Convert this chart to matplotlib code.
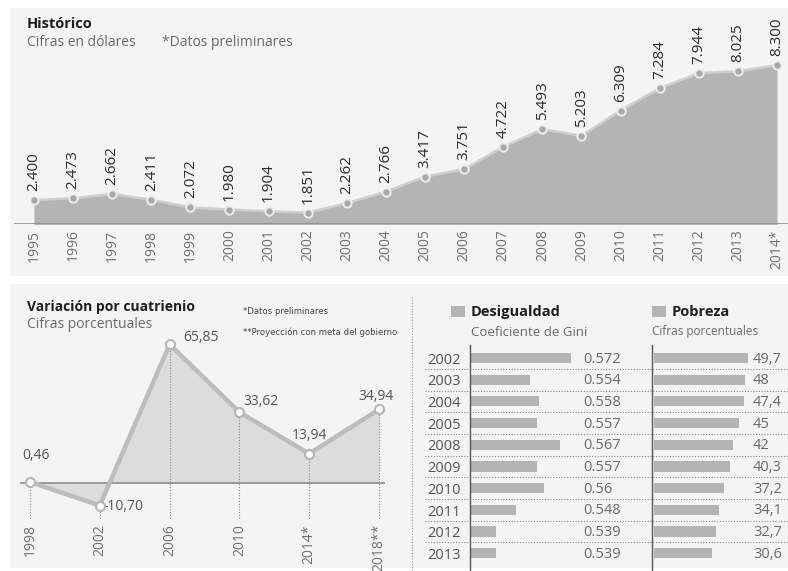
import matplotlib.pyplot as plt
from matplotlib.patches import Rectangle
from matplotlib.transforms import blended_transform_factory

plt.rcParams['font.family'] = ['Open Sans', 'DejaVu Sans']

# --- Data ---
hist_years = ['1995', '1996', '1997', '1998', '1999', '2000', '2001', '2002', '2003', '2004',
              '2005', '2006', '2007', '2008', '2009', '2010', '2011', '2012', '2013', '2014*']
hist_values = [2400, 2473, 2662, 2411, 2072, 1980, 1904, 1851, 2262, 2766,
               3417, 3751, 4722, 5493, 5203, 6309, 7284, 7944, 8025, 8300]

var_years = ['1998', '2002', '2006', '2010', '2014*', '2018**']
var_values = [0.46, -10.70, 65.85, 33.62, 13.94, 34.94]
var_labels = ['0,46', '-10,70', '65,85', '33,62', '13,94', '34,94']

table_years = ['2002', '2003', '2004', '2005', '2008', '2009', '2010', '2011', '2012', '2013']
gini = [0.572, 0.554, 0.558, 0.557, 0.567, 0.557, 0.56, 0.548, 0.539, 0.539]
gini_labels = ['0.572', '0.554', '0.558', '0.557', '0.567', '0.557', '0.56', '0.548', '0.539', '0.539']
pobreza = [49.7, 48, 47.4, 45, 42, 40.3, 37.2, 34.1, 32.7, 30.6]
pobreza_labels = ['49,7', '48', '47,4', '45', '42', '40,3', '37,2', '34,1', '32,7', '30,6']

W, H = 788, 571


def box(x0, y0, x1, y1):
    """pixel box (top-left origin) -> figure fraction rect"""
    return [x0 / W, 1 - y1 / H, (x1 - x0) / W, (y1 - y0) / H]


def px(x, y):
    return x / W, 1 - y / H


def clean(ax):
    for s in ax.spines.values():
        s.set_visible(False)
    ax.set_facecolor('none')
    ax.tick_params(length=0)


fig = plt.figure(figsize=(W / 100, H / 100), dpi=100)
fig.patch.set_facecolor('white')

# panel backgrounds
bg = '#f4f4f4'
fig.patches.append(Rectangle(px(10, 276), (W - 10) / W, 268 / H, transform=fig.transFigure,
                             fc=bg, ec='none', zorder=-5))
fig.patches.append(Rectangle(px(10, 568), (W - 10) / W, 284 / H, transform=fig.transFigure,
                             fc=bg, ec='none', zorder=-5))

title_c = '#1e1e1e'
sub_c = '#6a6a6a'
fill_dark = '#b4b4b4'

# --- Histórico ---
fig.text(*px(27, 24), 'Histórico', fontsize=10.5, fontweight='bold', color=title_c, va='center')
fig.text(*px(27, 43), 'Cifras en dólares', fontsize=10, color=sub_c, va='center')
fig.text(*px(162, 43), '*Datos preliminares', fontsize=10, color=sub_c, va='center')

ax1 = fig.add_axes(box(14, 8, 788, 224))
clean(ax1)
x1 = list(range(len(hist_values)))
ax1.fill_between(x1, hist_values, 0, color=fill_dark, lw=0, zorder=1)
ax1.plot(x1, hist_values, color='#cfcfcf', lw=1.8, zorder=2)
ax1.plot(x1, hist_values, 'o', ms=6, mfc='#a9a9a9', mec='#ececec', mew=1.4, zorder=3)
ax1.axhline(1350, color='#8c8c8c', lw=1.2, zorder=2)
ax1.set_xlim(-0.51, 19.28)
ax1.set_ylim(1350, 10790)
ax1.set_yticks([])
ax1.set_xticks(x1)
ax1.set_xticklabels(hist_years, rotation=90, fontsize=10, color='#707070')
ax1.tick_params(axis='x', pad=4)
for xi, v in zip(x1, hist_values):
    ax1.annotate(f'{v:,}'.replace(',', '.'), (xi, v), xytext=(0, 6.5), textcoords='offset points',
                 rotation=90, ha='center', va='bottom', fontsize=11, color='#2a2a2a')

# --- Variación por cuatrienio ---
fig.text(*px(27, 307), 'Variación por cuatrienio', fontsize=10, fontweight='bold',
         color=title_c, va='center')
fig.text(*px(27, 324), 'Cifras porcentuales', fontsize=10, color=sub_c, va='center')
narrow = ['Liberation Sans Narrow', 'DejaVu Sans']
fig.text(*px(243, 312), '*Datos preliminares', fontsize=6.1, family=narrow,
         color='#444444', va='center')
fig.text(*px(243, 332), '**Proyección con meta del gobierno', fontsize=6.1, family=narrow,
         color='#444444', va='center')

ax2 = fig.add_axes(box(20, 335, 385, 520))
clean(ax2)
x2 = list(range(len(var_values)))
ax2.fill_between(x2, var_values, 0, color='#dcdcdc', lw=0, zorder=1)
ax2.axhline(0, color='#8c8c8c', lw=1.2, zorder=2)
ax2.vlines(x2, -30, var_values, colors='#8a8a8a', linestyles=(0, (1, 1.5)), lw=0.8, zorder=2)
ax2.plot(x2, var_values, color='#bdbdbd', lw=3.2, zorder=3, solid_capstyle='round')
ax2.plot(x2, var_values, 'o', ms=6.5, mfc='white', mec='#b5b5b5', mew=1.5, zorder=4)
ax2.set_xlim(-0.143, 5.086)
ax2.set_ylim(-17.57, 70.3)
ax2.set_yticks([])
ax2.set_xticks(x2)
ax2.set_xticklabels(var_years, rotation=90, fontsize=10, color='#707070')
ax2.tick_params(axis='x', pad=3)
# label offsets in points (dx, dy), alignment
offs = [((4, 19), 'center'), ((3, -1), 'left'), ((10, 5), 'left'),
        ((3, 7.5), 'left'), ((0, 13), 'center'), ((-2, 9.5), 'center')]
for xi, v, lab, (off, ha) in zip(x2, var_values, var_labels, offs):
    ax2.annotate(lab, (xi, v), xytext=off, textcoords='offset points',
                 ha=ha, va='center', fontsize=10, color='#555555')

# vertical dotted separator
fig.add_artist(plt.Line2D([412 / W, 412 / W], [1 - 297 / H, 0], transform=fig.transFigure,
                          color='#9a9a9a', lw=0.8, ls=(0, (1, 1.5))))

# --- Desigualdad / Pobreza ---
fig.patches.append(Rectangle(px(451, 317), 14 / W, 11 / H, transform=fig.transFigure,
                             fc=fill_dark, ec='none'))
fig.text(*px(471, 312), 'Desigualdad', fontsize=10.5, fontweight='bold', color=title_c, va='center')
fig.text(*px(471, 332), 'Coeficiente de Gini', fontsize=9.5, color=sub_c, va='center')
fig.patches.append(Rectangle(px(652, 317), 14 / W, 11 / H, transform=fig.transFigure,
                             fc=fill_dark, ec='none'))
fig.text(*px(672, 312), 'Pobreza', fontsize=10.5, fontweight='bold', color=title_c, va='center')
fig.text(*px(652, 332), 'Cifras porcentuales', fontsize=8.5, color=sub_c, va='center')

rows = list(range(len(table_years)))
ylim_rows = (9.82, -0.6)

ax_t = fig.add_axes(box(425, 345, 788, 571))
clean(ax_t)
ax_t.set_xlim(0, 1)
ax_t.set_ylim(*ylim_rows)
ax_t.set_xticks([])
ax_t.set_yticks([])
ax_t.hlines([r + 0.5 for r in rows[:-1]], 0, 1, colors='#8a8a8a', linestyles=(0, (1, 1.5)), lw=0.8)
tr = blended_transform_factory(fig.transFigure, ax_t.transData)
for r, yr in zip(rows, table_years):
    ax_t.text(461 / W, r + 0.1, yr, transform=tr, ha='right', va='center', fontsize=10.5,
              color='#555555')

ax_g = fig.add_axes(box(470, 345, 645, 571))
clean(ax_g)
ax_g.spines['left'].set_visible(True)
ax_g.spines['left'].set_color('#555555')
ax_g.spines['left'].set_linewidth(1)
ax_g.barh(rows, gini, left=0, height=0.47, color=fill_dark, zorder=2)
ax_g.set_xlim(0.5276, 0.5276 + 175 / 2273)
ax_g.set_ylim(*ylim_rows)
ax_g.set_xticks([])
ax_g.set_yticks([])
trg = blended_transform_factory(ax_g.transAxes, ax_g.transData)
for r, lab in zip(rows, gini_labels):
    ax_g.text((583 - 470) / 175, r + 0.05, lab, transform=trg, ha='left', va='center',
              fontsize=10.5, color='#6a6a6a')

ax_p = fig.add_axes(box(652, 345, 788, 571))
clean(ax_p)
ax_p.spines['left'].set_visible(True)
ax_p.spines['left'].set_color('#555555')
ax_p.spines['left'].set_linewidth(1)
ax_p.barh(rows, pobreza, height=0.47, color=fill_dark, zorder=2)
ax_p.set_xlim(-1.2, -1.2 + 136 / 1.885)
ax_p.set_ylim(*ylim_rows)
ax_p.set_xticks([])
ax_p.set_yticks([])
trp = blended_transform_factory(ax_p.transAxes, ax_p.transData)
for r, lab in zip(rows, pobreza_labels):
    ax_p.text((753 - 652) / 136, r + 0.05, lab, transform=trp, ha='left', va='center',
              fontsize=10.5, color='#6a6a6a')

fig.savefig('out.png', dpi=100, facecolor=fig.get_facecolor())
